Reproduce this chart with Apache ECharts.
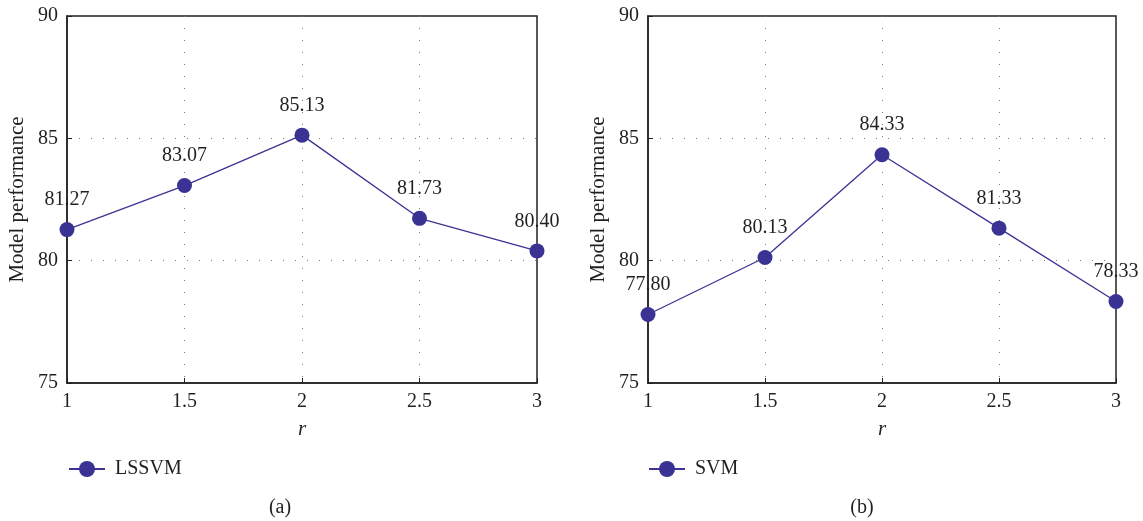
<!DOCTYPE html>
<html>
<head>
<meta charset="utf-8">
<script src="https://cdn.jsdelivr.net/npm/echarts@6/dist/echarts.min.js"></script>
<style>
  html, body { margin: 0; padding: 0; background: #ffffff; }
  #chart { width: 1143px; height: 521px; }
</style>
</head>
<body>
<div id="chart"></div>
<script>
// r values along the x axis (shared by both panels)
const rValues = [1, 1.5, 2, 2.5, 3];
// model performance for each r
const lssvmValues = [81.27, 83.07, 85.13, 81.73, 80.40];
const svmValues = [77.80, 80.13, 84.33, 81.33, 78.33];
// axis ranges
const yMin = 75, yMax = 90, yStep = 5;
const xMin = 1, xMax = 3, xStep = 0.5;

const FONT = 'Liberation Serif';
const TEXT = '#231f20';
const MARK = '#3a3393';

function pairs(xs, ys) { return xs.map((x, i) => [x, ys[i]]); }

const grids = [
  { left: 67, top: 16, width: 470, height: 367 },
  { left: 648, top: 16, width: 468, height: 367 }
];

function gridOpt(g) {
  return Object.assign({
    show: true, borderColor: '#222222', borderWidth: 1.5,
    backgroundColor: 'transparent', containLabel: false
  }, g);
}

const gridLine = { show: true, showMinLine: false, showMaxLine: false,
  lineStyle: { color: '#777777', width: 1, type: [1, 11] } };

function xAxisOpt(i) {
  return {
    type: 'value', gridIndex: i, min: xMin, max: xMax, interval: xStep,
    name: 'r', nameLocation: 'middle', nameGap: 36,
    nameTextStyle: { fontFamily: FONT, fontSize: 21, fontStyle: 'italic', color: TEXT },
    axisLine: { show: true, lineStyle: { color: '#222222', width: 1.5 } },
    axisTick: { show: true, inside: true, length: 5, lineStyle: { color: '#222222' } },
    axisLabel: { fontFamily: FONT, fontSize: 20, color: TEXT, margin: 9 },
    splitLine: gridLine
  };
}

function yAxisOpt(i) {
  return {
    type: 'value', gridIndex: i, min: yMin, max: yMax, interval: yStep,
    name: 'Model performance', nameLocation: 'middle', nameGap: 39,
    nameTextStyle: { fontFamily: FONT, fontSize: 21, color: TEXT },
    axisLine: { show: true, lineStyle: { color: '#222222', width: 1.5 } },
    axisTick: { show: true, inside: true, length: 5, lineStyle: { color: '#222222' } },
    axisLabel: { fontFamily: FONT, fontSize: 20, color: TEXT, margin: 9 },
    splitLine: gridLine
  };
}

function seriesOpt(name, i, ys) {
  return {
    name: name, type: 'line', xAxisIndex: i, yAxisIndex: i,
    data: pairs(rValues, ys),
    symbol: 'circle', symbolSize: 15,
    itemStyle: { color: MARK },
    lineStyle: { color: MARK, width: 1.3 },
    label: {
      show: true, position: 'top', distance: 12,
      fontFamily: FONT, fontSize: 20, color: TEXT,
      formatter: p => p.value[1].toFixed(2)
    },
    labelLayout: { hideOverlap: false },
    clip: false,
    z: 3
  };
}

function legendOpt(name, left) {
  return {
    data: [name], left: left, top: 459, padding: 0,
    itemWidth: 36, itemHeight: 20, itemGap: 12,
    textStyle: { fontFamily: FONT, fontSize: 20, color: TEXT, padding: [0, 0, 0, 5] },
    selectedMode: false
  };
}

const chart = echarts.init(document.getElementById('chart'), null, { renderer: 'canvas' });
chart.setOption({
  animation: false,
  backgroundColor: '#ffffff',
  grid: grids.map(gridOpt),
  xAxis: [xAxisOpt(0), xAxisOpt(1)],
  yAxis: [yAxisOpt(0), yAxisOpt(1)],
  legend: [legendOpt('LSSVM', 68), legendOpt('SVM', 648)],
  series: [seriesOpt('LSSVM', 0, lssvmValues), seriesOpt('SVM', 1, svmValues)],
  graphic: [
    { type: 'text', x: 280, y: 508, style: { text: '(a)', fontFamily: FONT, fontSize: 20, fill: TEXT, align: 'center', verticalAlign: 'middle' } },
    { type: 'text', x: 862, y: 508, style: { text: '(b)', fontFamily: FONT, fontSize: 20, fill: TEXT, align: 'center', verticalAlign: 'middle' } }
  ]
});
</script>
</body>
</html>
